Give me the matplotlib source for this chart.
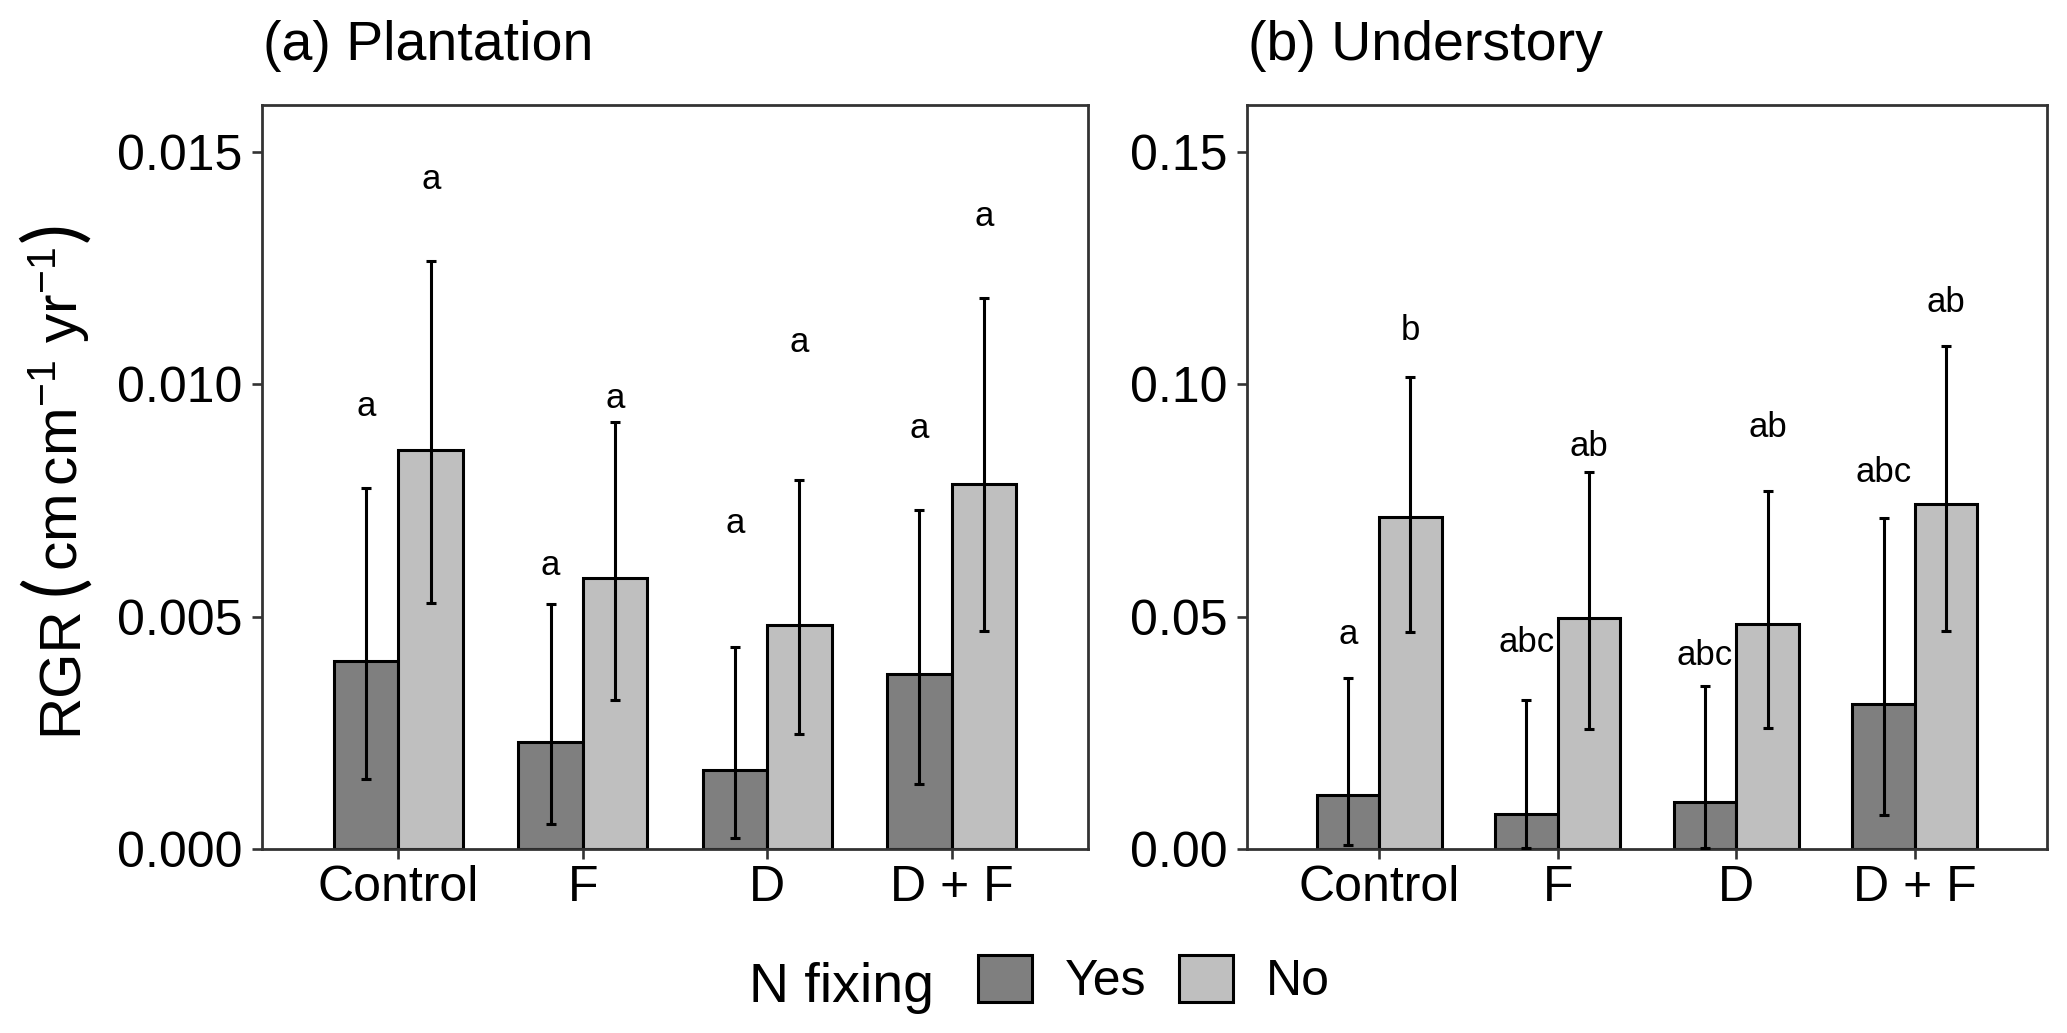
"""
RGR bar chart, plantation vs understory, N fixing yes/no
"""
import matplotlib
matplotlib.use("Agg")
import matplotlib.pyplot as plt
from matplotlib.patches import Patch
from matplotlib.transforms import IdentityTransform
import numpy as np

plt.rcParams['font.family'] = ['Liberation Sans', 'DejaVu Sans']
plt.rcParams['mathtext.fontset'] = 'custom'
plt.rcParams['mathtext.rm'] = 'Liberation Sans'
plt.rcParams['mathtext.it'] = 'Liberation Sans:italic'

treatments = ["Control", "F", "D", "D + F"]
groups = ["Yes", "No"]

# (a) plantation - means and error bar bounds
plant_yes = [0.00404, 0.00230, 0.00170, 0.00377]
plant_yes_lo = [0.00150, 0.00054, 0.00023, 0.00139]
plant_yes_hi = [0.00777, 0.00527, 0.00434, 0.00729]
plant_no = [0.00858, 0.00582, 0.00482, 0.00786]
plant_no_lo = [0.00530, 0.00320, 0.00247, 0.00469]
plant_no_hi = [0.01265, 0.00919, 0.00793, 0.01185]
plant_yes_lab = ["a", "a", "a", "a"]
plant_no_lab = ["a", "a", "a", "a"]
plant_yes_laby = [0.00951, 0.00609, 0.00700, 0.00905]
plant_no_laby = [0.01439, 0.00968, 0.01090, 0.01360]

# (b) understory
under_yes = [0.0117, 0.0076, 0.0102, 0.0312]
under_yes_lo = [0.0008, 0.0002, 0.0002, 0.0073]
under_yes_hi = [0.0367, 0.0320, 0.0350, 0.0711]
under_no = [0.0714, 0.0497, 0.0483, 0.0742]
under_no_lo = [0.0466, 0.0258, 0.0261, 0.0469]
under_no_hi = [0.1015, 0.0810, 0.0769, 0.1081]
under_yes_lab = ["a", "abc", "abc", "abc"]
under_no_lab = ["b", "ab", "ab", "ab"]
under_yes_laby = [0.0461, 0.0445, 0.0416, 0.0809]
under_no_laby = [0.1115, 0.0865, 0.0906, 0.1176]

DARK = "#7f7f7f"
LIGHT = "#bfbfbf"
FRAME = "#333333"
W = 0.35

fig = plt.figure(figsize=(20.67, 10.33), dpi=100)
ax1 = fig.add_axes([0.12675, 0.17812, 0.39961, 0.72023])
ax2 = fig.add_axes([0.60329, 0.17812, 0.38704, 0.72023])


def draw_panel(ax, yes, ylo, yhi, no, nlo, nhi, ylab, nlab, ylaby, nlaby, ymax, ticks, fmt):
    x = np.arange(len(treatments))
    for off, vals, lo, hi, col, labs, laby in [(-W / 2, yes, ylo, yhi, DARK, ylab, ylaby),
                                               (W / 2, no, nlo, nhi, LIGHT, nlab, nlaby)]:
        vals = np.array(vals)
        ax.bar(x + off, vals, width=W, color=col, edgecolor="black", linewidth=2.2, zorder=2)
        err = [vals - np.array(lo), np.array(hi) - vals]
        ax.errorbar(x + off, vals, yerr=err, fmt="none", ecolor="black",
                    elinewidth=2.2, capsize=3.3, capthick=2.2, zorder=3)
        for xi, yi, t in zip(x + off, laby, labs):
            ax.text(xi, yi, t, ha="center", va="center", fontsize=25)
    ax.set_xlim(-0.74, 3.74)
    ax.set_ylim(0, ymax)
    ax.set_xticks(x)
    ax.set_xticklabels(treatments)
    ax.set_yticks(ticks)
    ax.set_yticklabels([fmt % t for t in ticks])
    ax.tick_params(axis="both", labelsize=36, length=7.2, width=1.9, color=FRAME)
    ax.tick_params(axis="y", pad=7)
    ax.tick_params(axis="x", pad=4)
    for s in ax.spines.values():
        s.set_color(FRAME)
        s.set_linewidth(2.0)


draw_panel(ax1, plant_yes, plant_yes_lo, plant_yes_hi, plant_no, plant_no_lo, plant_no_hi,
           plant_yes_lab, plant_no_lab, plant_yes_laby, plant_no_laby,
           0.016, [0, 0.005, 0.010, 0.015], "%.3f")
draw_panel(ax2, under_yes, under_yes_lo, under_yes_hi, under_no, under_no_lo, under_no_hi,
           under_yes_lab, under_no_lab, under_yes_laby, under_no_laby,
           0.16, [0, 0.05, 0.10, 0.15], "%.2f")

fig.text(0.1272, 0.9419, "(a) Plantation", fontsize=40, va="baseline", ha="left")
fig.text(0.6038, 0.9419, "(b) Understory", fontsize=40, va="baseline", ha="left")

# y label built from pieces so the brackets can be taller than the text
renderer = fig.canvas.get_renderer()
base_x = 77
pos_y = 1033 - 735
pieces = [("RGR", 42, 10, "Liberation Sans", "normal"),
          ("(", 56, 4, "Lato", "normal"),
          (r"$\mathrm{cm\,cm^{-1}\ yr^{-1}}$", 42, 4, "Liberation Sans", "normal"),
          (")", 56, 0, "Lato", "normal")]
for txt, size, gap, fam, wt in pieces:
    t = fig.text(base_x, pos_y, txt, fontsize=size, rotation=90, rotation_mode="anchor",
                 ha="left", va="baseline", family=[fam, "DejaVu Sans"], fontweight=wt,
                 transform=IdentityTransform())
    bb = t.get_window_extent(renderer)
    pos_y = bb.y1 + gap

# legend, title placed to the left like ggplot
fig.text(749 / 2067, 1 - 1002 / 1033, "N fixing", fontsize=40, va="baseline", ha="left")
handles = [Patch(facecolor=DARK, edgecolor="black", linewidth=2.2),
           Patch(facecolor=LIGHT, edgecolor="black", linewidth=2.2)]
fig.legend(handles, groups, ncol=2, loc="center left",
           bbox_to_anchor=(978 / 2067, 1 - 980 / 1033), frameon=False,
           fontsize=36, handlelength=1.08, handleheight=1.08,
           handletextpad=0.66, columnspacing=0.64, borderpad=0, borderaxespad=0)

fig.savefig("out.png", dpi=100)
